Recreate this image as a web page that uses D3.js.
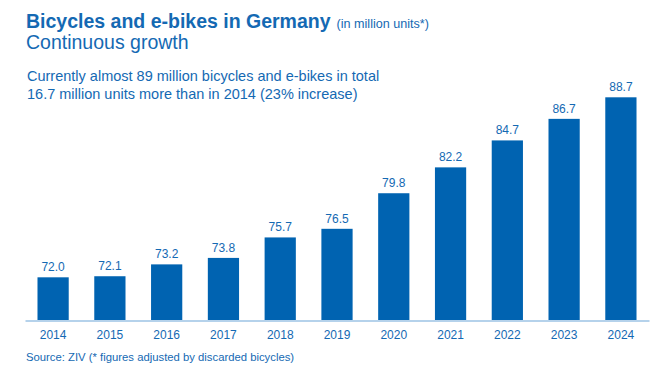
<!DOCTYPE html>
<html>
<head>
<meta charset="utf-8">
<script src="https://cdn.jsdelivr.net/npm/d3@7"></script>
<style>
  body { margin: 0; background: #fff; }
  text { font-family: "Liberation Sans", Arial, sans-serif; }
</style>
</head>
<body>
<div id="chart"></div>
<script>
const years = ["2014", "2015", "2016", "2017", "2018", "2019", "2020", "2021", "2022", "2023", "2024"]
const units = [72.0, 72.1, 73.2, 73.8, 75.7, 76.5, 79.8, 82.2, 84.7, 86.7, 88.7]
const titleText = "Bicycles and e-bikes in Germany"
const unitNote = "(in million units*)"
const subTitle = "Continuous growth"
const notes = ["Currently almost 89 million bicycles and e-bikes in total",
               "16.7 million units more than in 2014 (23% increase)"]
const sourceText = "Source: ZIV (* figures adjusted by discarded bicycles)"

const W = 660, H = 376
const blue = "#0063b1", textBlue = "#1469b3"

const svg = d3.select("#chart").append("svg")
    .attr("width", W)
    .attr("height", H)

const x = d3.scaleBand()
    .domain(years)
    .range([25, 649])
    .paddingInner(0.45)
    .paddingOuter(0.22)

const y = d3.scaleLinear()
    .domain([68.04, 88.7])
    .range([320, 97.3])

svg.selectAll("rect.bar")
    .data(units)
    .join("rect")
        .attr("class", "bar")
        .attr("x", (d, i) => x(years[i]))
        .attr("y", d => y(d))
        .attr("width", x.bandwidth())
        .attr("height", d => y(68.04) - y(d))
        .attr("fill", blue)

svg.selectAll("text.val")
    .data(units)
    .join("text")
        .attr("class", "val")
        .attr("x", (d, i) => x(years[i]) + x.bandwidth() / 2)
        .attr("y", d => y(d) - 6)
        .attr("text-anchor", "middle")
        .attr("font-size", 12)
        .attr("fill", textBlue)
        .text(d => d.toFixed(1))

const xAxis = svg.append("g")
    .attr("transform", `translate(0, 320.5)`)
    .call(d3.axisBottom(x).tickSize(0).tickPadding(10))
xAxis.select(".domain").attr("stroke", "#9cc3e5").attr("stroke-width", 1.5)
xAxis.selectAll("text")
    .attr("font-size", 12)
    .attr("fill", textBlue)
    .style("font-family", "'Liberation Sans', Arial, sans-serif")

const title = svg.append("text")
    .attr("x", 26)
    .attr("y", 27.5)
    .attr("fill", textBlue)
title.append("tspan")
    .attr("font-size", 19.5)
    .attr("font-weight", "bold")
    .text(titleText)
title.append("tspan")
    .attr("font-size", 12.6)
    .attr("dx", 6)
    .text(unitNote)

svg.append("text")
    .attr("x", 26)
    .attr("y", 49)
    .attr("font-size", 19.5)
    .attr("fill", textBlue)
    .text(subTitle)

svg.selectAll("text.note")
    .data(notes)
    .join("text")
        .attr("class", "note")
        .attr("x", 27)
        .attr("y", (d, i) => 81 + i * 18)
        .attr("font-size", 14.5)
        .attr("fill", textBlue)
        .text(d => d)

svg.append("text")
    .attr("x", 26)
    .attr("y", 361)
    .attr("font-size", 11.3)
    .attr("fill", textBlue)
    .text(sourceText)
</script>
</body>
</html>
